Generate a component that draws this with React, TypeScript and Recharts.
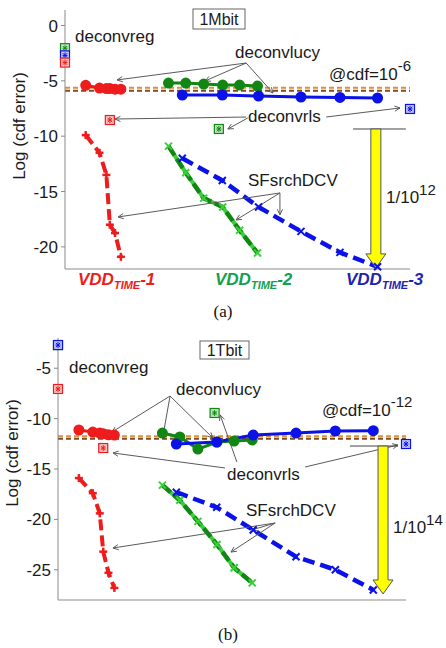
import React from 'react';
import { ComposedChart, Line, Scatter, XAxis, YAxis, ReferenceLine } from 'recharts';

const FONT = '"Liberation Sans", Arial, sans-serif';
const SERIF = '"Liberation Serif", "Times New Roman", serif';
const RED = '#ee1c1c';
const GREEN = '#128612';
const LIGHT_GREEN = '#3ad03a';
const BLUE = '#0a12e8';
const ARROW = '#5a5a5a';
const AXIS = '#8a8a8a';

// x positions of the six settings in each VDD_TIME group (same in both panels)
const xTime1 = [0.6, 1.0, 1.2, 1.3, 1.45, 1.62];
const xTime2 = [3.0, 3.5, 4.02, 4.57, 5.06, 5.58];
const xTime3 = [3.4, 4.56, 5.61, 6.84, 7.97, 9.06];
const xTicks = [0, 1, 2, 3, 4, 5, 6, 7, 8, 9, 10];

// (a) 1Mbit
const yTicksA = [-20, -15, -10, -5, 0];
const regA = [-5.4, -5.65, -5.7, -5.7, -5.75, -5.75];
const lucy2A = [-5.2, -5.2, -5.29, -5.38, -5.38, -5.47];
const lucy3A = [-6.28, -6.28, -6.37, -6.46, -6.5, -6.55];
const sf1A = [-9.9, -11.5, -13.5, -18.0, -18.75, -20.9];
const sf2A = [-10.9, -13.3, -15.6, -16.4, -18.5, -20.55];
const sf3A = [-12.0, -14.0, -16.4, -18.6, -20.5, -21.8];
const cdfA = [-5.62, -5.9];
const regAxisA = [-2.05, -2.7, -3.35]; // green, blue, red at x = 0
const rlsXA = [1.3, 4.46, 10];
const rlsA = [-8.54, -9.35, -7.54]; // red, green, blue

// (b) 1Tbit
const yTicksB = [-25, -20, -15, -10, -5];
const regB = [-11.13, -11.33, -11.43, -11.5, -11.6, -11.63];
const lucy2B = [-11.43, -11.82, -13.02, -12.32, -12.22, -12.12];
const lucy3B = [-12.52, -12.32, -11.63, -11.43, -11.23, -11.2];
const sf1B = [-15.9, -17.4, -19.4, -23.2, -25.3, -26.8];
const sf2B = [-16.6, -18.1, -20.2, -22.5, -24.8, -26.3];
const sf3B = [-17.3, -18.8, -21.05, -23.7, -25.0, -27.0];
const cdfB = [-11.75, -12.0];
const regAxisB = [-2.7, -2.7, -7.06];
const rlsXB = [1.3, 4.5, 10];
const rlsB = [-12.92, -9.44, -12.52];

// annotation arrows [x1, y1, x2, y2] in data units
const lucyArrowsA = [[5.25, -3.39, 1.51, -4.92], [5.25, -3.39, 4.06, -5.01], [5.25, -3.39, 6.03, -6.1]];
const rlsArrowsA = [[5.25, -8.27, 1.45, -8.45], [5.3, -8.35, 4.72, -9.35], [7.57, -8.27, 9.71, -7.45]];
const sfArrowsA = [[6.23, -15.13, 1.54, -17.3], [6.23, -15.13, 4.96, -17.57], [6.23, -15.13, 6.23, -17.1]];
const gapA = { x: 9.01, top: -9.35, bottom: -21.9, left: 8.35, right: 9.88 };

const lucyArrowsB = [[3.22, -7.76, 1.55, -11.33], [3.22, -7.76, 3.02, -11.63], [3.22, -7.76, 4.45, -11.92]];
const rlsArrowsB = [[4.8, -14.9, 1.58, -13.41], [5.14, -14.3, 4.66, -9.64], [7.1, -14.8, 9.77, -12.62]];
const sfArrowsB = [[6.24, -20.36, 1.58, -22.84], [6.24, -20.36, 4.97, -23.24], [6.24, -20.36, 5.57, -21.05]];
const gapB = { x: 9.34, top: -12.72, bottom: -27.4, left: 8.39, right: 9.77 };

const pts = (xs: number[], ys: number[]) => xs.map((x, i) => ({ x, y: ys[i] }));

const plusDot = (color: string) => (p: any) => (
  <g key={'p' + p.index}>
    <line x1={p.cx - 4} y1={p.cy} x2={p.cx + 4} y2={p.cy} stroke={color} strokeWidth={2.5} />
    <line x1={p.cx} y1={p.cy - 4} x2={p.cx} y2={p.cy + 4} stroke={color} strokeWidth={2.5} />
  </g>
);

const crossDot = (color: string) => (p: any) => (
  <g key={'c' + p.index}>
    <line x1={p.cx - 3.5} y1={p.cy - 3.5} x2={p.cx + 3.5} y2={p.cy + 3.5} stroke={color} strokeWidth={2} />
    <line x1={p.cx - 3.5} y1={p.cy + 3.5} x2={p.cx + 3.5} y2={p.cy - 3.5} stroke={color} strokeWidth={2} />
  </g>
);

const BoxStar = ({ cx, cy, color, tint }: any) => (
  <g>
    <rect x={cx - 4.5} y={cy - 4.5} width={9} height={9} fill={tint} stroke={color} strokeWidth={1.2} />
    <line x1={cx - 2.5} y1={cy} x2={cx + 2.5} y2={cy} stroke={color} />
    <line x1={cx} y1={cy - 3} x2={cx} y2={cy + 3} stroke={color} />
    <line x1={cx - 2.2} y1={cy - 2.2} x2={cx + 2.2} y2={cy + 2.2} stroke={color} />
    <line x1={cx - 2.2} y1={cy + 2.2} x2={cx + 2.2} y2={cy - 2.2} stroke={color} />
  </g>
);

const ArrowLine = (p: any) => {
  const { x1, y1, x2, y2 } = p;
  const a = Math.atan2(y2 - y1, x2 - x1);
  const h = 6;
  const s = 0.45;
  return (
    <g>
      <line x1={x1} y1={y1} x2={x2} y2={y2} stroke={ARROW} strokeWidth={1} />
      <polyline
        points={`${x2 - h * Math.cos(a - s)},${y2 - h * Math.sin(a - s)} ${x2},${y2} ${x2 - h * Math.cos(a + s)},${y2 - h * Math.sin(a + s)}`}
        fill="none"
        stroke={ARROW}
        strokeWidth={1}
      />
    </g>
  );
};

const YellowArrow = (p: any) => {
  const x = p.x1;
  const top = Math.min(p.y1, p.y2);
  const tip = Math.max(p.y1, p.y2);
  const d = `M${x - 5},${top} L${x + 5},${top} L${x + 5},${tip - 14} L${x + 10},${tip - 14} L${x},${tip} L${x - 10},${tip - 14} L${x - 5},${tip - 14} Z`;
  return <path d={d} fill="#ffff00" stroke="#555" strokeWidth={1} />;
};

const arrows = (list: number[][], key: string) =>
  list.map((a, i) => (
    <ReferenceLine
      key={key + i}
      segment={[{ x: a[0], y: a[1] }, { x: a[2], y: a[3] }]}
      shape={(p: any) => <ArrowLine {...p} />}
      ifOverflow="visible"
    />
  ));

const boxColors = [
  { color: GREEN, tint: '#bfe6bf' },
  { color: BLUE, tint: '#c4c6fb' },
  { color: RED, tint: '#f9c4c4' },
];
const rlsColors = [boxColors[2], boxColors[0], boxColors[1]];

const layers = (k: string, d: any) => [
  <ReferenceLine key={k + 'c0'} y={d.cdf[0]} stroke="#d8913c" strokeWidth={2} strokeDasharray="5 3" />,
  <ReferenceLine key={k + 'c1'} y={d.cdf[1]} stroke="#7d4b25" strokeWidth={2} strokeDasharray="5 3" />,
  <Line key={k + 's1'} data={pts(xTime1, d.sf1)} dataKey="y" stroke={RED} strokeWidth={4} strokeDasharray="11 5"
    dot={plusDot(RED)} activeDot={false} isAnimationActive={false} />,
  <Line key={k + 's2'} data={pts(xTime2, d.sf2)} dataKey="y" stroke={LIGHT_GREEN} strokeWidth={4}
    dot={crossDot(LIGHT_GREEN)} activeDot={false} isAnimationActive={false} />,
  <Line key={k + 's2d'} data={pts(xTime2, d.sf2)} dataKey="y" stroke={GREEN} strokeWidth={4.5} strokeDasharray="11 4"
    dot={false} activeDot={false} isAnimationActive={false} />,
  <Line key={k + 's3'} data={pts(xTime3, d.sf3)} dataKey="y" stroke={BLUE} strokeWidth={4.5} strokeDasharray="12 6"
    dot={crossDot(BLUE)} activeDot={false} isAnimationActive={false} />,
  <Line key={k + 'r'} data={pts(xTime1, d.reg)} dataKey="y" stroke={RED} strokeWidth={3}
    dot={{ r: 4, fill: RED, stroke: RED }} activeDot={false} isAnimationActive={false} />,
  <Line key={k + 'l2'} data={pts(xTime2, d.lucy2)} dataKey="y" stroke={GREEN} strokeWidth={3}
    dot={{ r: 4, fill: GREEN, stroke: GREEN }} activeDot={false} isAnimationActive={false} />,
  <Line key={k + 'l3'} data={pts(xTime3, d.lucy3)} dataKey="y" stroke={BLUE} strokeWidth={3}
    dot={{ r: 4, fill: BLUE, stroke: BLUE }} activeDot={false} isAnimationActive={false} />,
  ...d.regAxis.map((y: number, i: number) => (
    <Scatter key={k + 'g' + i} data={[{ x: 0, y }]} dataKey="y" isAnimationActive={false}
      shape={(p: any) => <BoxStar cx={p.cx} cy={p.cy} {...boxColors[i]} />} />
  )),
  ...d.rls.map((y: number, i: number) => (
    <Scatter key={k + 'b' + i} data={[{ x: d.rlsX[i], y }]} dataKey="y" isAnimationActive={false}
      shape={(p: any) => <BoxStar cx={p.cx} cy={p.cy} {...rlsColors[i]} />} />
  )),
];

const txt = { fontFamily: FONT, fontSize: 17, fill: '#1a1a1a' };

const Vdd = ({ x, color, n }: any) => (
  <text x={x} y={285} fill={color} fontFamily={FONT} fontSize={17} fontWeight="bold" fontStyle="italic">
    VDD<tspan fontSize={11} dy={4}>TIME</tspan><tspan dy={-4}>-{n}</tspan>
  </text>
);

const axisProps = {
  axisLine: { stroke: AXIS },
  tickLine: { stroke: AXIS },
};

export default function App() {
  return (
    <div style={{ position: 'absolute', left: 0, top: 0, width: 446, height: 648, background: '#fff' }}>
      <div style={{ position: 'absolute', left: 0, top: 0 }}>
        <ComposedChart width={446} height={300} margin={{ top: 10, right: 36, bottom: 11, left: 25 }}>
          <XAxis type="number" dataKey="x" domain={[0, 10]} ticks={xTicks} interval={0} tick={false}
            tickSize={-5} height={20} {...axisProps} />
          <YAxis type="number" domain={[-22, 1.4]} ticks={yTicksA} interval={0} width={40} tickSize={4}
            tickMargin={3} tick={{ fontSize: 17, fill: '#1a1a1a', fontFamily: FONT }} {...axisProps} />
          {layers('a', { cdf: cdfA, sf1: sf1A, sf2: sf2A, sf3: sf3A, reg: regA, lucy2: lucy2A, lucy3: lucy3A,
            regAxis: regAxisA, rls: rlsA, rlsX: rlsXA })}
          {arrows(lucyArrowsA, 'la')}
          {arrows(rlsArrowsA, 'ra')}
          {arrows(sfArrowsA, 'sa')}
          <ReferenceLine segment={[{ x: gapA.left, y: gapA.top }, { x: gapA.right, y: gapA.top }]} stroke="#444" strokeWidth={1} />
          <ReferenceLine segment={[{ x: gapA.x, y: gapA.top }, { x: gapA.x, y: gapA.bottom }]}
            shape={(p: any) => <YellowArrow {...p} />} />
          <text {...txt} x={75} y={42}>deconvreg</text>
          <text {...txt} x={235} y={58}>deconvlucy</text>
          <text {...txt} x={329} y={80}>@cdf=10<tspan fontSize={15} dy={-9}>-6</tspan></text>
          <text {...txt} x={248} y={122}>deconvrls</text>
          <text {...txt} x={248} y={186}>SFsrchDCV</text>
          <text {...txt} x={386} y={203}>1/10<tspan fontSize={15} dy={-8}>12</tspan></text>
          <rect x={193} y={9} width={52} height={20} fill="#fff" stroke="#666" strokeWidth={1} />
          <text {...txt} fontSize={16} x={219} y={25} textAnchor="middle">1Mbit</text>
          <text {...txt} x={25} y={126} textAnchor="middle" transform="rotate(-90 25 126)">Log (cdf error)</text>
          <Vdd x={78} color={RED} n={1} />
          <Vdd x={215} color="#14a04c" n={2} />
          <Vdd x={346} color="#1f24b0" n={3} />
        </ComposedChart>
      </div>
      <div style={{ position: 'absolute', left: 0, top: 300 }}>
        <ComposedChart width={446} height={348} margin={{ top: 38, right: 40, bottom: 28, left: 18 }}>
          <XAxis type="number" dataKey="x" domain={[0, 10]} ticks={xTicks} interval={0} tick={false}
            tickSize={-5} height={20} {...axisProps} />
          <YAxis type="number" domain={[-28, -2]} ticks={yTicksB} interval={0} width={40} tickSize={4}
            tickMargin={3} tick={{ fontSize: 17, fill: '#1a1a1a', fontFamily: FONT }} {...axisProps} />
          {layers('b', { cdf: cdfB, sf1: sf1B, sf2: sf2B, sf3: sf3B, reg: regB, lucy2: lucy2B, lucy3: lucy3B,
            regAxis: regAxisB, rls: rlsB, rlsX: rlsXB })}
          {arrows(lucyArrowsB, 'lb')}
          {arrows(rlsArrowsB, 'rb')}
          {arrows(sfArrowsB, 'sb')}
          <ReferenceLine segment={[{ x: gapB.left, y: gapB.top }, { x: gapB.right, y: gapB.top }]} stroke="#444" strokeWidth={1} />
          <ReferenceLine segment={[{ x: gapB.x, y: gapB.top }, { x: gapB.x, y: gapB.bottom }]}
            shape={(p: any) => <YellowArrow {...p} />} />
          <text {...txt} x={69} y={73}>deconvreg</text>
          <text {...txt} x={176} y={95}>deconvlucy</text>
          <text {...txt} x={322} y={116}>@cdf=10<tspan fontSize={15} dy={-9}>-12</tspan></text>
          <text {...txt} x={227} y={180}>deconvrls</text>
          <text {...txt} x={246} y={216}>SFsrchDCV</text>
          <text {...txt} x={393} y={233}>1/10<tspan fontSize={15} dy={-8}>14</tspan></text>
          <rect x={200} y={41} width={49} height={18} fill="#fff" stroke="#666" strokeWidth={1} />
          <text {...txt} fontSize={16} x={224.5} y={56} textAnchor="middle">1Tbit</text>
          <text {...txt} x={18} y={153} textAnchor="middle" transform="rotate(-90 18 153)">Log (cdf error)</text>
          <text x={228} y={340} textAnchor="middle" fontFamily={SERIF} fontSize={17} fill="#111">(b)</text>
        </ComposedChart>
      </div>
      <div style={{ position: 'absolute', left: 0, top: 302, width: 446, textAlign: 'center', fontFamily: SERIF, fontSize: 17, color: '#111' }}>
        (a)
      </div>
    </div>
  );
}
